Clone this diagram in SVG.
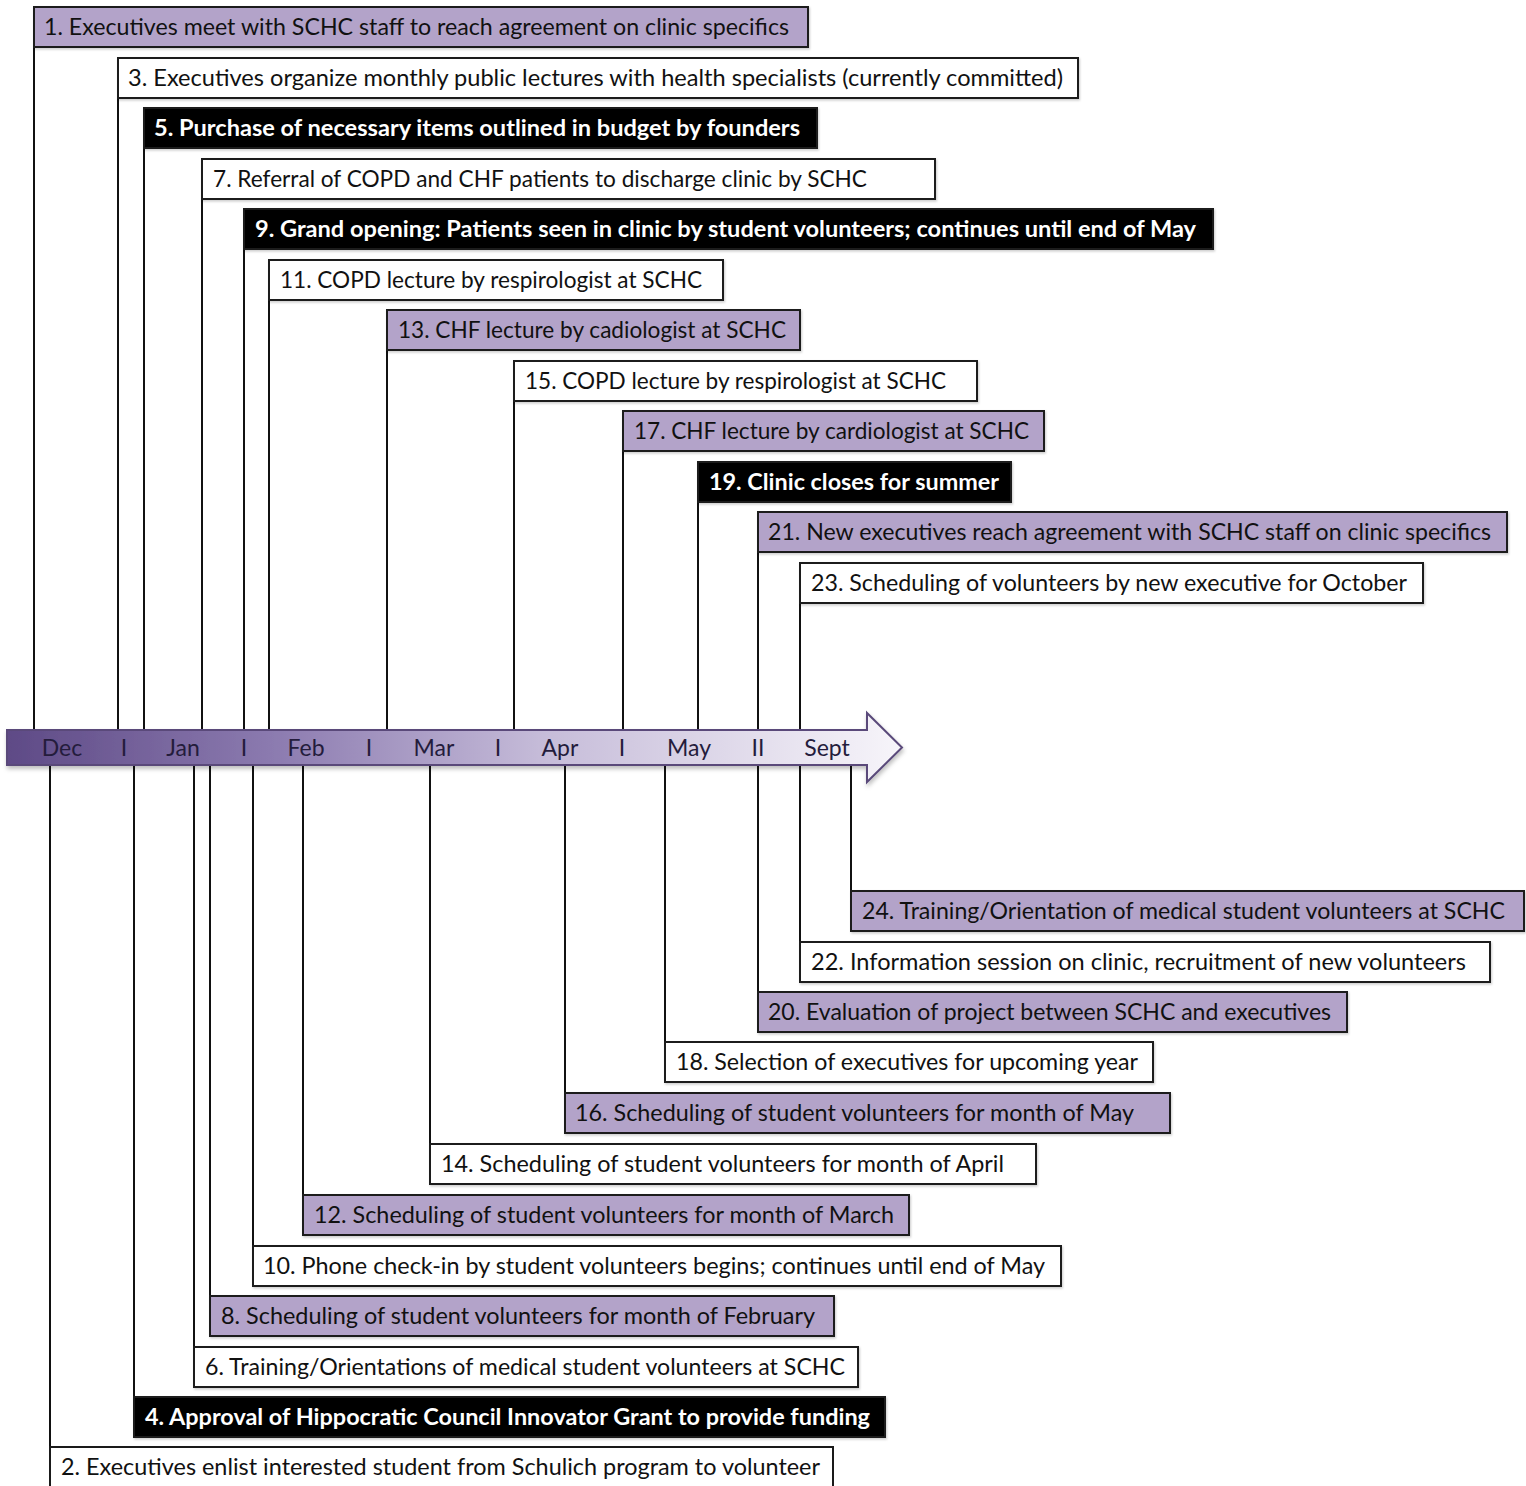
<svg xmlns="http://www.w3.org/2000/svg" width="1526" height="1486" viewBox="0 0 1526 1486">
<style>
.box{stroke:#1a1a1a;stroke-width:2;}
.w{fill:#ffffff;}
.p{fill:#b3a3c9;}
.k{fill:#000000;}
.t{font-family:Lato,"Open Sans","Liberation Sans",sans-serif;font-size:23px;fill:#111111;}
.tb{font-family:Lato,"Open Sans","Liberation Sans",sans-serif;font-size:23px;font-weight:bold;fill:#ffffff;}
.m{font-family:Lato,"Open Sans","Liberation Sans",sans-serif;font-size:23px;fill:#241c3c;}
.c line{stroke:#111111;stroke-width:2;}
</style>
<defs>
<linearGradient id="ag" x1="7" y1="0" x2="902" y2="0" gradientUnits="userSpaceOnUse">
<stop offset="0" stop-color="#5e4a86"/>
<stop offset="0.3" stop-color="#8c7bb0"/>
<stop offset="0.6" stop-color="#c6bcd9"/>
<stop offset="1" stop-color="#f7f5fa"/>
</linearGradient>
<filter id="sh" x="-5%" y="-20%" width="110%" height="160%">
<feDropShadow dx="1" dy="3" stdDeviation="2" flood-color="#000" flood-opacity="0.25"/>
</filter>
<filter id="bs" x="-2%" y="-10%" width="104%" height="130%">
<feDropShadow dx="1" dy="1.5" stdDeviation="1.2" flood-color="#000" flood-opacity="0.2"/>
</filter>
</defs>
<rect width="1526" height="1486" fill="#ffffff"/>

<g class="c" id="connectors">
<line x1="34" y1="47" x2="34" y2="731"/>
<line x1="118" y1="98" x2="118" y2="731"/>
<line x1="144" y1="148" x2="144" y2="731"/>
<line x1="202" y1="199" x2="202" y2="731"/>
<line x1="244" y1="249" x2="244" y2="731"/>
<line x1="269" y1="300" x2="269" y2="731"/>
<line x1="387" y1="350" x2="387" y2="731"/>
<line x1="514" y1="401" x2="514" y2="731"/>
<line x1="623" y1="451" x2="623" y2="731"/>
<line x1="698" y1="502" x2="698" y2="731"/>
<line x1="758" y1="552" x2="758" y2="731"/>
<line x1="800" y1="603" x2="800" y2="731"/>
<line x1="50" y1="764" x2="50" y2="1447"/>
<line x1="134" y1="764" x2="134" y2="1397"/>
<line x1="194" y1="764" x2="194" y2="1347"/>
<line x1="210" y1="764" x2="210" y2="1296"/>
<line x1="253" y1="764" x2="253" y2="1246"/>
<line x1="303" y1="764" x2="303" y2="1195"/>
<line x1="430" y1="764" x2="430" y2="1144"/>
<line x1="565" y1="764" x2="565" y2="1093"/>
<line x1="665" y1="764" x2="665" y2="1042"/>
<line x1="758" y1="764" x2="758" y2="992"/>
<line x1="800" y1="764" x2="800" y2="942"/>
<line x1="851" y1="764" x2="851" y2="891"/>
</g>

<g id="timeline">
<path d="M7,730 L867,730 L867,713 L902,747.5 L867,782 L867,765 L7,765 Z" fill="url(#ag)" stroke="#5a4a7a" stroke-width="2" stroke-linejoin="miter" filter="url(#sh)"/>
<text class="m" x="62" y="756" text-anchor="middle">Dec</text>
<text class="m" x="124" y="756" text-anchor="middle">I</text>
<text class="m" x="183" y="756" text-anchor="middle">Jan</text>
<text class="m" x="244" y="756" text-anchor="middle">I</text>
<text class="m" x="306" y="756" text-anchor="middle">Feb</text>
<text class="m" x="369" y="756" text-anchor="middle">I</text>
<text class="m" x="434" y="756" text-anchor="middle">Mar</text>
<text class="m" x="498" y="756" text-anchor="middle">I</text>
<text class="m" x="560" y="756" text-anchor="middle">Apr</text>
<text class="m" x="622" y="756" text-anchor="middle">I</text>
<text class="m" x="689" y="756" text-anchor="middle">May</text>
<text class="m" x="758" y="756" text-anchor="middle">II</text>
<text class="m" x="827" y="756" text-anchor="middle">Sept</text>
</g>

<g id="n1"><rect class="box p" filter="url(#bs)" x="34" y="7" width="774" height="40"/><text class="t" x="44" y="35" textLength="745" lengthAdjust="spacingAndGlyphs">1. Executives meet with SCHC staff to reach agreement on clinic specifics</text></g>
<g id="n3"><rect class="box w" filter="url(#bs)" x="118" y="58" width="960" height="40"/><text class="t" x="128" y="86" textLength="935" lengthAdjust="spacingAndGlyphs">3. Executives organize monthly public lectures with health specialists (currently committed)</text></g>
<g id="n5"><rect class="box k" filter="url(#bs)" x="144" y="108" width="673" height="40"/><text class="tb" x="154" y="136" textLength="646" lengthAdjust="spacingAndGlyphs">5. Purchase of necessary items outlined in budget by founders</text></g>
<g id="n7"><rect class="box w" filter="url(#bs)" x="202" y="159" width="733" height="40"/><text class="t" x="213" y="187" textLength="654" lengthAdjust="spacingAndGlyphs">7. Referral of COPD and CHF patients to discharge clinic by SCHC</text></g>
<g id="n9"><rect class="box k" filter="url(#bs)" x="244" y="209" width="969" height="40"/><text class="tb" x="255" y="237" textLength="941" lengthAdjust="spacingAndGlyphs">9. Grand opening: Patients seen in clinic by student volunteers; continues until end of May</text></g>
<g id="n11"><rect class="box w" filter="url(#bs)" x="269" y="260" width="454" height="40"/><text class="t" x="280" y="288" textLength="422" lengthAdjust="spacingAndGlyphs">11. COPD lecture by respirologist at SCHC</text></g>
<g id="n13"><rect class="box p" filter="url(#bs)" x="387" y="310" width="413" height="40"/><text class="t" x="398" y="338" textLength="388" lengthAdjust="spacingAndGlyphs">13. CHF lecture by cadiologist at SCHC</text></g>
<g id="n15"><rect class="box w" filter="url(#bs)" x="514" y="361" width="463" height="40"/><text class="t" x="525" y="389" textLength="421" lengthAdjust="spacingAndGlyphs">15. COPD lecture by respirologist at SCHC</text></g>
<g id="n17"><rect class="box p" filter="url(#bs)" x="623" y="411" width="421" height="40"/><text class="t" x="634" y="439" textLength="395" lengthAdjust="spacingAndGlyphs">17. CHF lecture by cardiologist at SCHC</text></g>
<g id="n19"><rect class="box k" filter="url(#bs)" x="698" y="462" width="313" height="40"/><text class="tb" x="709" y="490" textLength="290" lengthAdjust="spacingAndGlyphs">19. Clinic closes for summer</text></g>
<g id="n21"><rect class="box p" filter="url(#bs)" x="758" y="512" width="749" height="40"/><text class="t" x="768" y="540" textLength="723" lengthAdjust="spacingAndGlyphs">21. New executives reach agreement with SCHC staff on clinic specifics</text></g>
<g id="n23"><rect class="box w" filter="url(#bs)" x="800" y="563" width="623" height="40"/><text class="t" x="811" y="591" textLength="596" lengthAdjust="spacingAndGlyphs">23. Scheduling of volunteers by new executive for October</text></g>

<g id="n24"><rect class="box p" filter="url(#bs)" x="851" y="891" width="673" height="40"/><text class="t" x="862" y="919" textLength="643" lengthAdjust="spacingAndGlyphs">24. Training/Orientation of medical student volunteers at SCHC</text></g>
<g id="n22"><rect class="box w" filter="url(#bs)" x="800" y="942" width="690" height="40"/><text class="t" x="811" y="970" textLength="655" lengthAdjust="spacingAndGlyphs">22. Information session on clinic, recruitment of new volunteers</text></g>
<g id="n20"><rect class="box p" filter="url(#bs)" x="758" y="992" width="589" height="40"/><text class="t" x="768" y="1020" textLength="563" lengthAdjust="spacingAndGlyphs">20. Evaluation of project between SCHC and executives</text></g>
<g id="n18"><rect class="box w" filter="url(#bs)" x="665" y="1042" width="488" height="40"/><text class="t" x="676" y="1070" textLength="462" lengthAdjust="spacingAndGlyphs">18. Selection of executives for upcoming year</text></g>
<g id="n16"><rect class="box p" filter="url(#bs)" x="565" y="1093" width="605" height="40"/><text class="t" x="575" y="1121" textLength="559" lengthAdjust="spacingAndGlyphs">16. Scheduling of student volunteers for month of May</text></g>
<g id="n14"><rect class="box w" filter="url(#bs)" x="430" y="1144" width="606" height="40"/><text class="t" x="441" y="1172" textLength="563" lengthAdjust="spacingAndGlyphs">14. Scheduling of student volunteers for month of April</text></g>
<g id="n12"><rect class="box p" filter="url(#bs)" x="303" y="1195" width="606" height="40"/><text class="t" x="314" y="1223" textLength="580" lengthAdjust="spacingAndGlyphs">12. Scheduling of student volunteers for month of March</text></g>
<g id="n10"><rect class="box w" filter="url(#bs)" x="253" y="1246" width="808" height="40"/><text class="t" x="263" y="1274" textLength="782" lengthAdjust="spacingAndGlyphs">10. Phone check-in by student volunteers begins; continues until end of May</text></g>
<g id="n8"><rect class="box p" filter="url(#bs)" x="210" y="1296" width="624" height="40"/><text class="t" x="221" y="1324" textLength="594" lengthAdjust="spacingAndGlyphs">8. Scheduling of student volunteers for month of February</text></g>
<g id="n6"><rect class="box w" filter="url(#bs)" x="194" y="1347" width="664" height="40"/><text class="t" x="205" y="1375" textLength="640" lengthAdjust="spacingAndGlyphs">6. Training/Orientations of medical student volunteers at SCHC</text></g>
<g id="n4"><rect class="box k" filter="url(#bs)" x="134" y="1397" width="751" height="40"/><text class="tb" x="145" y="1425" textLength="725" lengthAdjust="spacingAndGlyphs">4. Approval of Hippocratic Council Innovator Grant to provide funding</text></g>
<g id="n2"><rect class="box w" x="50" y="1447" width="783" height="42"/><text class="t" x="61" y="1475" textLength="759" lengthAdjust="spacingAndGlyphs">2. Executives enlist interested student from Schulich program to volunteer</text></g>
</svg>
